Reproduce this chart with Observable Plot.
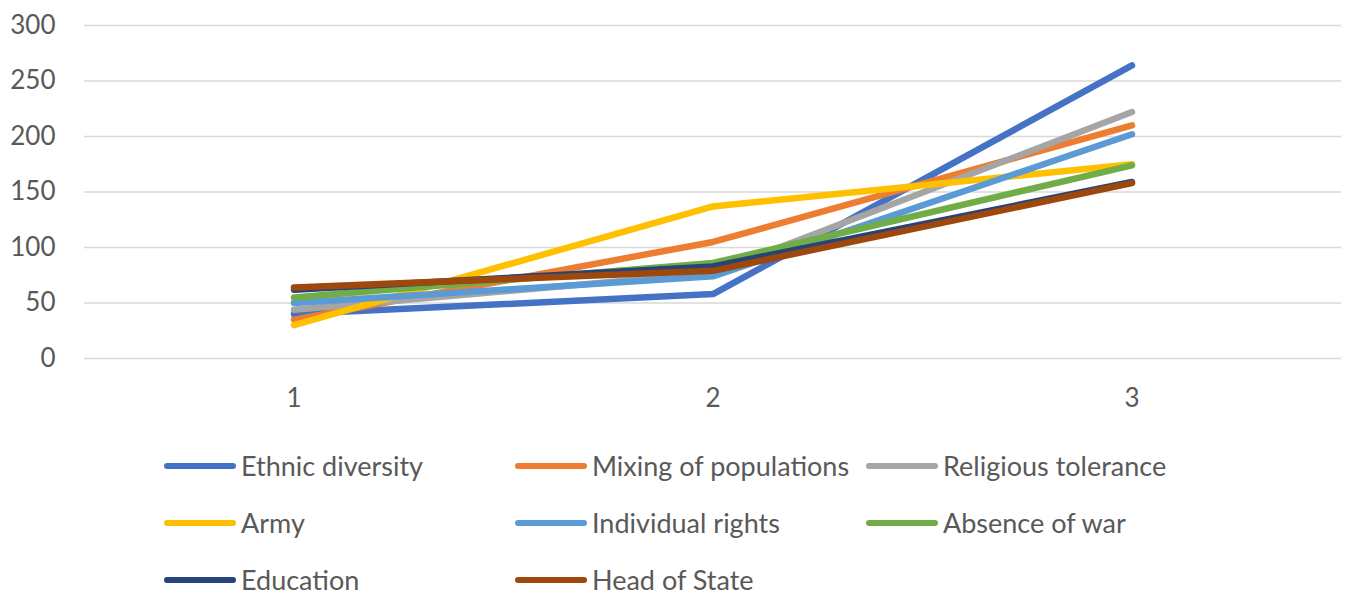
<!DOCTYPE html>
<html>
<head>
<meta charset="utf-8">
<script src="https://cdn.jsdelivr.net/npm/d3@7"></script>
<script src="https://cdn.jsdelivr.net/npm/@observablehq/plot@0.6"></script>
<style>
  body { margin: 0; background: #fff; font-family: Lato, "Open Sans", sans-serif; }
  #chart svg { display: block; }
  #legend {
    position: relative;
    display: grid;
    grid-template-columns: 351px 351px 351px;
    grid-auto-rows: 57px;
    padding-left: 164px;
    margin-top: 7px;
    font-size: 27px;
    color: #595959;
  }
  .item { display: flex; align-items: center; height: 57px; white-space: nowrap; }
  .sw { width: 72px; height: 6px; border-radius: 3px; margin-right: 5px; flex: none; }
</style>
</head>
<body>
<div id="chart"></div>
<div id="legend"></div>
<script>
const categories = [1, 2, 3];
const seriesNames = ["Ethnic diversity", "Mixing of populations", "Religious tolerance", "Army", "Individual rights", "Absence of war", "Education", "Head of State"];
const ethnicDiversity = [40, 58, 264];
const mixingOfPopulations = [35, 105, 210];
const religiousTolerance = [44, 77, 222];
const army = [30, 137, 175];
const individualRights = [50, 74, 202];
const absenceOfWar = [55, 86, 174];
const education = [62, 83, 159];
const headOfState = [64, 79, 158];
const yTicks = [0, 50, 100, 150, 200, 250, 300];
const colors = ["#4472C4", "#ED7D31", "#A5A5A5", "#FFC000", "#5B9BD5", "#70AD47", "#264478", "#9E480E"];

const seriesValues = [ethnicDiversity, mixingOfPopulations, religiousTolerance, army, individualRights, absenceOfWar, education, headOfState];
const data = [];
seriesNames.forEach((name, i) => {
  categories.forEach((c, j) => data.push({series: name, x: c, y: seriesValues[i][j]}));
});

const chart = Plot.plot({
  width: 1364,
  height: 430,
  marginLeft: 84,
  marginRight: 23,
  marginTop: 25,
  marginBottom: 72,
  style: {fontFamily: "Lato, 'Open Sans', sans-serif", fontSize: "26px", color: "#595959", background: "#fff"},
  x: {domain: [0.5, 3.5]},
  y: {domain: [0, 300]},
  color: {domain: seriesNames, range: colors},
  marks: [
    Plot.gridY(yTicks, {stroke: "#d9d9d9", strokeOpacity: 1, strokeWidth: 1.4}),
    Plot.axisY(yTicks, {tickSize: 0, tickPadding: 29, fontSize: 26, fill: "#595959", label: null}),
    Plot.axisX(categories, {tickSize: 0, tickPadding: 30, fontSize: 26, fill: "#595959", label: null, tickFormat: d => String(d)}),
    Plot.line(data, {x: "x", y: "y", z: "series", stroke: "series", strokeWidth: 6.5, strokeLinecap: "round", strokeLinejoin: "round"})
  ]
});
document.getElementById("chart").appendChild(chart);

const legend = document.getElementById("legend");
seriesNames.forEach((name, i) => {
  const item = document.createElement("div");
  item.className = "item";
  const sw = document.createElement("span");
  sw.className = "sw";
  sw.style.background = colors[i];
  const t = document.createElement("span");
  t.textContent = name;
  item.appendChild(sw);
  item.appendChild(t);
  legend.appendChild(item);
});
</script>
</body>
</html>
